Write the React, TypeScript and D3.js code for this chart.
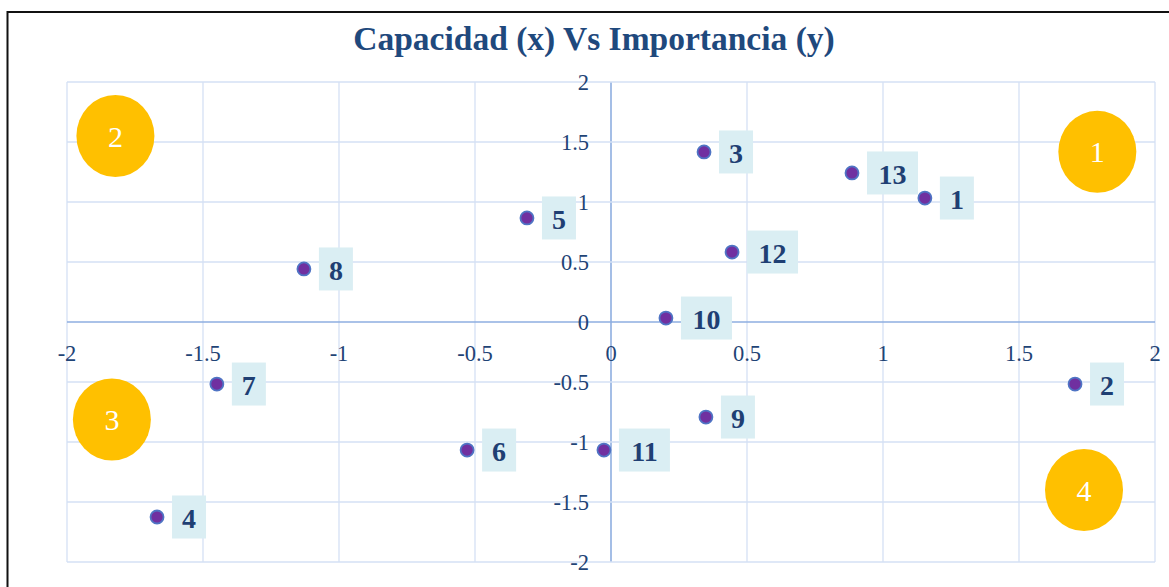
import React from "react";
import * as d3 from "d3";

const ids = ["1", "2", "3", "4", "5", "6", "7", "8", "9", "10", "11", "12", "13"];
const xValues = [1.154, 1.706, 0.342, -1.669, -0.309, -0.529, -1.449, -1.129, 0.349, 0.202, -0.026, 0.445, 0.886];
const yValues = [1.033, -0.517, 1.417, -1.625, 0.867, -1.067, -0.517, 0.442, -0.792, 0.033, -1.067, 0.583, 1.242];
const tickValues = [-2, -1.5, -1, -0.5, 0, 0.5, 1, 1.5, 2];
const quadrantLabels = ["1", "2", "3", "4"];
const quadrantX = [1.788, -1.822, -1.835, 1.739];
const quadrantY = [1.418, 1.55, -0.8125, -1.4];

const W = 1169;
const H = 587;
const left = 67, right = 1155, top = 82, bottom = 562;

export default function App() {
  const x = d3.scaleLinear().domain([-2, 2]).range([left, right]);
  const y = d3.scaleLinear().domain([-2, 2]).range([bottom, top]);
  const fmt = (v: number) => String(v);
  const grid = "#D5E1F5";
  const axis = "#8EAEE0";
  const tickColor = "#1F4476";
  return (
    <svg width={W} height={H} style={{ position: "absolute", left: 0, top: 0, background: "#fff" }}>
      <rect x={7.5} y={12} width={W + 20} height={H + 20} fill="#fff" stroke="#111" strokeWidth={2} />
      <text x={594} y={50} textAnchor="middle" fontFamily="Liberation Serif" fontWeight="bold" fontSize={33.5} fill="#1F497D">
        Capacidad (x) Vs Importancia (y)
      </text>
      {tickValues.map((t) => (
        <line key={"gx" + t} x1={x(t)} x2={x(t)} y1={top} y2={bottom} stroke={t === 0 ? axis : grid} strokeWidth={t === 0 ? 1.6 : 1.3} />
      ))}
      {tickValues.map((t) => (
        <line key={"gy" + t} x1={left} x2={right} y1={y(t)} y2={y(t)} stroke={t === 0 ? axis : grid} strokeWidth={t === 0 ? 1.6 : 1.3} />
      ))}
      {tickValues.map((t) => (
        <text key={"tx" + t} x={x(t)} y={y(0) + 31} dy="0.35em" textAnchor="middle" fontFamily="Liberation Serif" fontSize={22.5} fill={tickColor}>
          {fmt(t)}
        </text>
      ))}
      {tickValues.map((t) => (
        <text key={"ty" + t} x={x(0) - 22} y={y(t)} dy="0.35em" textAnchor="end" fontFamily="Liberation Serif" fontSize={22.5} fill={tickColor}>
          {fmt(t)}
        </text>
      ))}
      {quadrantLabels.map((q, i) => (
        <g key={"q" + q}>
          <ellipse cx={x(quadrantX[i])} cy={y(quadrantY[i])} rx={39} ry={41} fill="#FFC000" />
          <text x={x(quadrantX[i])} y={y(quadrantY[i])} dy="0.35em" textAnchor="middle" fontFamily="Liberation Serif" fontSize={30} fill="#fff">
            {q}
          </text>
        </g>
      ))}
      {ids.map((id, i) => {
        const px = x(xValues[i]);
        const py = y(yValues[i]);
        const bw = id.length > 1 ? 51 : 34;
        return (
          <g key={"p" + id}>
            <circle cx={px} cy={py} r={6.5} fill="#7030A0" stroke="#4F74C4" strokeWidth={1.8} />
            <rect x={px + 15} y={py - 21.5} width={bw} height={43} fill="#DAEEF3" />
            <text x={px + 15 + bw / 2} y={py + 1} dy="0.35em" textAnchor="middle" fontFamily="Liberation Serif" fontWeight="bold" fontSize={28} fill="#1F3F73">
              {id}
            </text>
          </g>
        );
      })}
    </svg>
  );
}
